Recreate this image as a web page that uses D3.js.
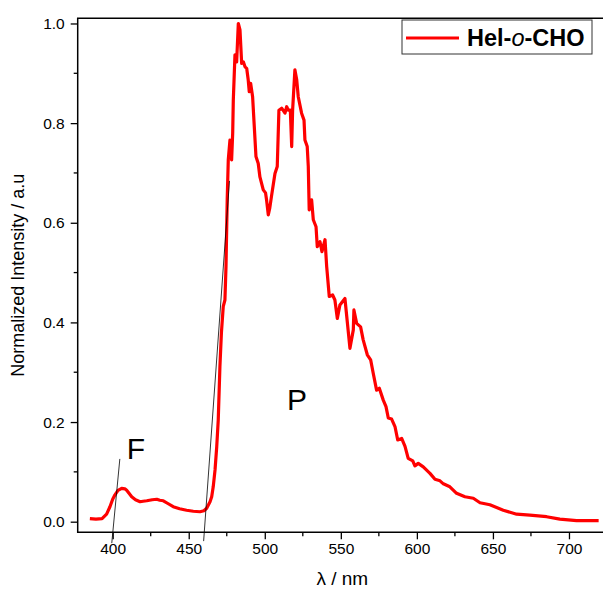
<!DOCTYPE html>
<html>
<head>
<meta charset="utf-8">
<script src="https://cdn.jsdelivr.net/npm/d3@7"></script>
<style>
  body { margin: 0; background: #fff; }
  svg { font-family: Arial, "Liberation Sans", sans-serif; }
</style>
</head>
<body>
<svg id="chart" width="603" height="592"></svg>
<script>
// emission spectrum
const wavelength = [385, 389, 393, 396, 398.2, 400, 401.5, 403.5, 405.9, 408, 409.2, 411, 412.5, 415, 418, 420, 422.4, 426, 429, 431,
  433.3, 436, 439.8, 444, 448.6, 453, 457.4, 460, 461.8, 464, 465.1, 466.1, 467.3, 468.4, 469.4, 470.5, 471.5, 472.7, 473.8, 474.5,
  475.3, 476, 477.1, 478.2, 478.9, 479.3, 480.4, 481.5, 482.6, 483.7, 484.8, 485.9, 487, 488.1, 489.1, 489.8, 490.7, 492, 493.1, 494.2,
  495.7, 496.8, 499, 500.5, 501.2, 502.3, 503.3, 504.5, 506.7, 508.2, 509.3, 511.1, 513.3, 514.4, 515.4, 516.8, 517.7, 518.3, 519.8, 521,
  522, 524.2, 525.8, 526.4, 527.9, 528.6, 529.2, 530.8, 531.9, 533.7, 534.5, 536.3, 537.6, 539.6, 540.7, 542.4, 544.6, 546.1, 547.7, 549.4,
  552.7, 556, 558.2, 558.6, 560.4, 563, 564.7, 567.4, 569.6, 571.3, 573.5, 575.3, 577.9, 579.7, 581.2, 583.4, 585.6, 587.4, 590, 592.2,
  594.3, 597.3, 598.7, 600.9, 604.2, 608.6, 611.9, 615.2, 617.4, 621.7, 626.1, 631.6, 637.1, 641.5, 648, 656.8, 665.6, 674.3, 685.3, 694,
  705, 719.5]
const intensity = [0.006, 0.005, 0.006, 0.015, 0.03, 0.045, 0.054, 0.063, 0.067, 0.066, 0.063, 0.056, 0.05, 0.044, 0.040, 0.041, 0.042, 0.044, 0.045, 0.043,
  0.042, 0.037, 0.030, 0.026, 0.023, 0.021, 0.020, 0.022, 0.027, 0.040, 0.050, 0.070, 0.104, 0.15, 0.204, 0.311, 0.38, 0.432, 0.445, 0.512,
  0.646, 0.726, 0.766, 0.726, 0.78, 0.846, 0.937, 0.923, 1.0, 0.987, 0.92, 0.923, 0.913, 0.91, 0.887, 0.863, 0.88, 0.853, 0.793, 0.733,
  0.719, 0.692, 0.666, 0.66, 0.645, 0.616, 0.63, 0.655, 0.699, 0.713, 0.826, 0.83, 0.82, 0.833, 0.826, 0.826, 0.753, 0.826, 0.907, 0.887,
  0.853, 0.82, 0.806, 0.766, 0.753, 0.713, 0.626, 0.646, 0.606, 0.592, 0.552, 0.562, 0.542, 0.566, 0.512, 0.452, 0.455, 0.445, 0.408, 0.435,
  0.448, 0.348, 0.385, 0.425, 0.398, 0.391, 0.365, 0.335, 0.325, 0.298, 0.264, 0.268, 0.244, 0.231, 0.208, 0.206, 0.191, 0.164, 0.167, 0.151,
  0.127, 0.122, 0.112, 0.117, 0.110, 0.097, 0.085, 0.082, 0.076, 0.070, 0.057, 0.050, 0.047, 0.038, 0.034, 0.023, 0.015, 0.013, 0.010, 0.005,
  0.002, 0.002]

const xTicks = [400, 450, 500, 550, 600, 650, 700]
const xMinor = [425, 475, 525, 575, 625, 675, 725]
const yTicks = [0.0, 0.2, 0.4, 0.6, 0.8, 1.0]
const yMinor = [0.1, 0.3, 0.5, 0.7, 0.9]

// onset tangents: [x1, y1, x2, y2] in data units
const tangentF = [404.7, 0.126, 399.4, -0.043]
const tangentP = [476.8, 0.684, 459.8, -0.039]
// band labels
const bandLabels = [["F", 409.2, 0.125], ["P", 514.6, 0.224]]
const seriesName = ["Hel-", "o", "-CHO"]

const svg = d3.select("#chart")

const x = d3.scaleLinear().domain([377, 725]).range([77.7, 607])
const y = d3.scaleLinear().domain([-0.0213, 1.0104]).range([532.3, 18.3])

const data = wavelength.map((w, i) => [w, intensity[i]])

// frame (left, top, bottom) - right side falls outside the image
svg.append("path")
  .attr("d", `M${x(725)},${y(1.0104)}H${x(377)}V${y(-0.0213)}H${x(725)}`)
  .attr("fill", "none")
  .attr("stroke", "#000")
  .attr("stroke-width", 1.5)

// x axis
const xAxis = svg.append("g").attr("transform", `translate(0,${y(-0.0213)})`)
xAxis.call(d3.axisBottom(x).tickValues(xTicks).tickSize(7).tickPadding(4).tickFormat(d3.format("d")))
xAxis.select(".domain").remove()
xAxis.selectAll("text").attr("font-size", 15.5).attr("fill", "#000").attr("font-family", "Arial, 'Liberation Sans', sans-serif")
xAxis.selectAll("line").attr("stroke-width", 1.3)
svg.append("g").attr("transform", `translate(0,${y(-0.0213)})`)
  .selectAll("line").data(xMinor).join("line")
  .attr("x1", d => x(d)).attr("x2", d => x(d))
  .attr("y1", 0).attr("y2", 4)
  .attr("stroke", "#000").attr("stroke-width", 1.3)

// y axis
const yAxis = svg.append("g").attr("transform", `translate(${x(377)},0)`)
yAxis.call(d3.axisLeft(y).tickValues(yTicks).tickSize(7).tickPadding(6).tickFormat(d3.format(".1f")))
yAxis.select(".domain").remove()
yAxis.selectAll("text").attr("font-size", 15.5).attr("fill", "#000").attr("font-family", "Arial, 'Liberation Sans', sans-serif")
yAxis.selectAll("line").attr("stroke-width", 1.3)
svg.append("g").attr("transform", `translate(${x(377)},0)`)
  .selectAll("line").data(yMinor).join("line")
  .attr("y1", d => y(d)).attr("y2", d => y(d))
  .attr("x1", 0).attr("x2", -4)
  .attr("stroke", "#000").attr("stroke-width", 1.3)

// axis titles
svg.append("text")
  .attr("x", (x(377) + x(725)) / 2)
  .attr("y", 585)
  .attr("text-anchor", "middle")
  .attr("font-size", 19)
  .text("λ / nm")

svg.append("text")
  .attr("transform", `translate(24,${(y(1.0104) + y(-0.0213)) / 2}) rotate(-90)`)
  .attr("text-anchor", "middle")
  .attr("font-size", 18)
  .text("Normalized Intensity / a.u")

// spectrum
svg.append("path")
  .datum(data)
  .attr("d", d3.line().x(d => x(d[0])).y(d => y(d[1])))
  .attr("fill", "none")
  .attr("stroke", "#ff0000")
  .attr("stroke-width", 3.2)
  .attr("stroke-linejoin", "round")

// tangent lines
for (const t of [tangentF, tangentP]) {
  svg.append("line")
    .attr("x1", x(t[0])).attr("y1", y(t[1]))
    .attr("x2", x(t[2])).attr("y2", y(t[3]))
    .attr("stroke", "#000").attr("stroke-width", 0.8)
}

svg.selectAll(".band").data(bandLabels).join("text")
  .attr("class", "band")
  .attr("x", d => x(d[1])).attr("y", d => y(d[2]))
  .attr("font-size", 30)
  .text(d => d[0])

// legend
const lg = svg.append("g").attr("transform", "translate(402,20)")
lg.append("rect").attr("width", 190).attr("height", 34)
  .attr("fill", "#fff").attr("stroke", "#333").attr("stroke-width", 1)
lg.append("line").attr("x1", 4).attr("x2", 57).attr("y1", 18).attr("y2", 18)
  .attr("stroke", "#ff0000").attr("stroke-width", 3)
const lt = lg.append("text").attr("x", 65).attr("y", 26).attr("font-size", 23.5).attr("font-weight", "bold")
lt.append("tspan").text(seriesName[0])
lt.append("tspan").attr("font-style", "italic").attr("font-weight", "normal").text(seriesName[1])
lt.append("tspan").text(seriesName[2])
</script>
</body>
</html>
